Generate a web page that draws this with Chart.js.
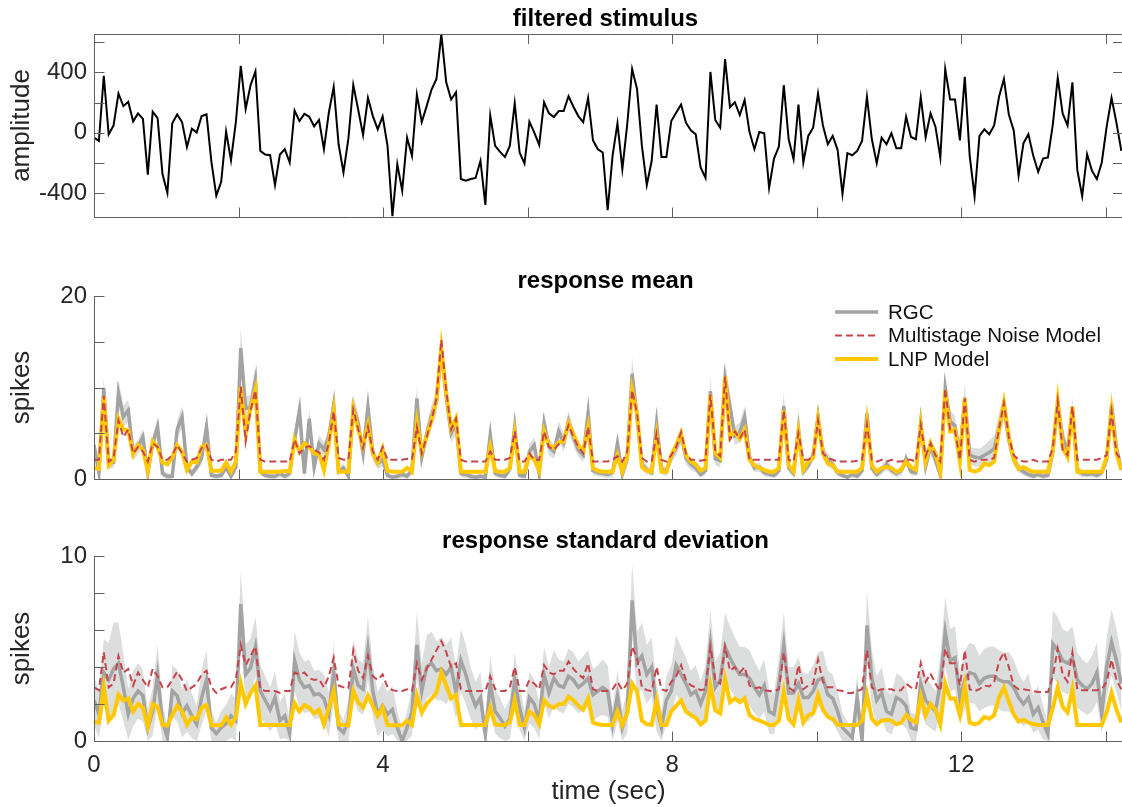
<!DOCTYPE html>
<html>
<head>
<meta charset="utf-8">
<title>RGC responses vs. models</title>
<script src="https://cdn.jsdelivr.net/npm/chart.js@4.4.1/dist/chart.umd.min.js"></script>
<style>
  html, body { margin: 0; padding: 0; background: #fff; }
  #wrap { position: relative; width: 1122px; height: 807px; overflow: hidden; }
  .panel { position: absolute; left: 0; width: 1124px; }
</style>
</head>
<body>
<div id="wrap">
  <div class="panel" style="top:0;height:230px"><canvas id="stimChart"></canvas></div>
  <div class="panel" style="top:230px;height:260px"><canvas id="meanChart"></canvas></div>
  <div class="panel" style="top:490px;height:317px"><canvas id="sdChart"></canvas></div>
</div>
<script>
// time base: one sample per stimulus frame
const DT = 0.0677;
const X_MAX = 14.24;
const X_TICKS = [0, 2, 4, 6, 8, 10, 12, 14];
const X_LABELS = [0, 4, 8, 12];

const STIM_TICKS = [-400, -200, 0, 200, 400, 600];
const STIM_LABELS = [-400, 0, 400];
const MEAN_TICKS = [0, 5, 10, 15, 20];
const MEAN_LABELS = [0, 20];
const SD_TICKS = [0, 2, 4, 6, 8, 10];
const SD_LABELS = [0, 10];

// filtered stimulus (a.u.)
const stimulus = [
  -33, -55, 378, -11, 48, 260, 176, 205, 75, 128,
  92, -279, 139, 97, -275, -400, 62, 121, 70, -95,
  26, 0, 110, 121, -194, -418, -326, 7, -183, 70,
  444, 158, 315, 407, -121, -145, -150, -348, -145, -110,
  -198, 147, 77, 125, 106, 42, 84, -110, 132, 304,
  -77, -264, -40, 317, 154, -15, 231, 110, 22, 108,
  -88, -554, -209, -385, -33, -154, 253, 70, 176, 286,
  356, 653, 334, 220, 268, -308, -319, -308, -301, -187,
  -480, 114, -88, -128, -161, -88, 194, -132, -205, 73,
  0, -81, 202, 128, 103, 143, 143, 242, 172, 110,
  70, 231, -51, -110, -132, -515, -154, 62, -242, 55,
  422, 290, -88, -348, -187, 187, -161, -161, 77, 132,
  187, 66, 15, -11, -231, -301, 403, 84, 33, 488,
  169, 202, 117, 216, 4, -110, 4, -4, -367, -172,
  -92, 315, -44, -176, 187, -198, -22, 33, 260, 48,
  -77, -22, -114, -407, -136, -150, -121, -55, 238, -44,
  -202, -33, -77, -4, -103, -103, 106, -29, -44, 235,
  -29, 128, 40, -165, 422, 220, 220, -51, 370, -154,
  -422, -22, 22, -11, 48, 238, 356, 121, 15, -286,
  -70, -11, -154, -260, -172, -165, 55, 363, 128, 48,
  334, -249, -422, -143, -253, -308, -198, 40, 231, 66,
  -121
];

// response mean (spikes per bin)
const rgcMean = [
  3.7, 0.7, 9.9, 1.7, 1.8, 9.4, 6.8, 7.5, 2.8, 3.5,
  4.6, 0.6, 3.9, 5.7, 0.6, 0.3, 0.3, 5.4, 6.8, 1.3,
  0.6, 1.3, 2.3, 5.7, 0.4, 0.3, 0.4, 1.3, 0.3, 1.3,
  14.3, 7.7, 7.9, 10.8, 0.8, 0.4, 0.3, 0.3, 0.6, 0.3,
  0.6, 4.3, 7.5, 0.6, 6.6, 1.3, 3.9, 3.2, 4.6, 8.1,
  0.8, 1.2, 0.3, 7.9, 6.1, 2.8, 7.9, 2.8, 1.7, 2.1,
  0.4, 0.2, 0.3, 0.5, 0.3, 1.0, 8.8, 2.4, 4.9, 6.9,
  8.5, 14.1, 9.0, 5.0, 6.0, 0.6, 0.5, 0.3, 0.2, 0.3,
  0.2, 4.8, 0.6, 0.4, 0.3, 1.1, 5.7, 0.4, 0.3, 3.0,
  3.7, 0.6, 6.1, 3.5, 3.0, 5.2, 4.0, 6.3, 4.6, 3.2,
  2.6, 7.2, 0.9, 0.7, 0.6, 0.5, 0.7, 3.9, 0.5, 2.2,
  11.5, 6.8, 1.6, 1.0, 0.7, 6.1, 1.1, 0.8, 2.4, 3.4,
  4.8, 2.3, 1.6, 1.2, 0.5, 0.9, 9.6, 2.2, 2.0, 11.0,
  7.9, 4.7, 5.1, 6.8, 2.4, 1.2, 1.3, 0.7, 0.5, 0.4,
  0.9, 8.0, 1.2, 0.6, 5.5, 0.8, 1.5, 2.6, 6.8, 3.0,
  2.1, 1.6, 0.7, 0.4, 0.2, 0.5, 0.3, 0.9, 7.2, 1.2,
  0.5, 1.0, 1.6, 1.0, 0.6, 0.9, 2.2, 0.8, 0.7, 6.2,
  1.4, 3.6, 2.1, 0.4, 9.9, 6.3, 5.8, 2.6, 8.9, 2.6,
  2.4, 2.3, 2.6, 2.9, 3.3, 5.6, 7.9, 4.3, 2.3, 1.2,
  0.8, 0.5, 0.3, 0.5, 0.3, 0.4, 2.9, 8.3, 4.5, 3.0,
  7.6, 1.0, 0.6, 0.5, 0.6, 0.4, 0.7, 2.1, 8.2, 3.4,
  1.0
];
// half-width of the shaded band around the RGC mean
const rgcMeanSpread = [
  1.2, 0.5, 1.2, 0.6, 0.6, 1.5, 1.2, 1.2, 0.8, 0.8,
  0.9, 0.4, 0.8, 1.1, 0.4, 0.3, 0.3, 1.0, 1.2, 0.5,
  0.4, 0.5, 0.7, 1.1, 0.3, 0.3, 0.3, 0.5, 0.3, 0.5,
  2.2, 1.3, 1.3, 1.6, 0.4, 0.3, 0.3, 0.3, 0.4, 0.3,
  0.4, 1.0, 1.3, 0.5, 1.2, 0.6, 0.9, 0.8, 1.0, 1.3,
  0.4, 0.5, 0.3, 1.3, 1.1, 0.8, 1.3, 0.8, 0.6, 0.7,
  0.3, 0.2, 0.3, 0.4, 0.3, 0.5, 1.4, 0.8, 1.0, 1.2,
  1.4, 2.0, 1.5, 1.0, 1.2, 0.4, 0.4, 0.3, 0.2, 0.3,
  0.2, 1.0, 0.4, 0.3, 0.3, 0.5, 1.1, 0.3, 0.3, 0.8,
  0.9, 0.4, 1.2, 0.9, 0.8, 1.1, 1.0, 1.2, 1.0, 0.8,
  0.8, 1.3, 0.5, 0.4, 0.4, 0.4, 0.5, 0.9, 0.4, 0.7,
  1.8, 1.2, 0.6, 0.5, 0.4, 1.2, 0.5, 0.5, 0.7, 0.8,
  1.0, 0.7, 0.6, 0.5, 0.3, 0.5, 1.5, 0.7, 0.7, 1.8,
  1.4, 1.0, 1.1, 1.2, 0.7, 0.5, 0.5, 0.4, 0.3, 0.3,
  0.5, 1.4, 0.5, 0.4, 1.1, 0.4, 0.6, 0.7, 1.2, 0.8,
  0.7, 0.6, 0.4, 0.3, 0.2, 0.3, 0.3, 0.5, 1.3, 0.5,
  0.3, 0.5, 0.6, 0.5, 0.4, 0.5, 0.7, 0.4, 0.4, 1.1,
  0.6, 0.9, 0.7, 0.3, 1.6, 1.2, 1.1, 0.8, 1.5, 0.9,
  1.0, 1.0, 1.1, 1.3, 1.4, 1.5, 1.6, 1.2, 0.8, 0.5,
  0.4, 0.3, 0.3, 0.3, 0.3, 0.3, 0.8, 1.4, 1.1, 0.9,
  1.3, 0.5, 0.4, 0.3, 0.4, 0.3, 0.4, 0.7, 1.4, 0.9,
  0.5
];
const msnMean = [
  2.1, 2.1, 9.1, 1.9, 2.3, 6.4, 4.6, 5.4, 2.8, 3.5,
  3.0, 1.9, 3.9, 3.5, 2.1, 2.1, 2.6, 3.7, 2.8, 1.9,
  2.1, 2.3, 3.4, 3.7, 2.1, 1.9, 2.1, 2.1, 2.1, 3.0,
  10.1, 4.1, 7.5, 9.7, 2.1, 1.9, 1.9, 1.9, 1.9, 1.9,
  1.9, 4.3, 2.8, 3.4, 3.6, 3.2, 2.9, 2.1, 3.9, 7.4,
  2.3, 2.1, 2.1, 7.6, 5.5, 3.4, 5.7, 3.0, 2.1, 3.5,
  2.1, 2.1, 2.1, 2.1, 2.2, 2.1, 5.7, 2.8, 4.6, 6.4,
  8.8, 15.2, 9.7, 5.4, 6.6, 2.1, 1.9, 1.9, 1.9, 1.9,
  1.9, 3.0, 2.1, 2.1, 2.1, 2.3, 5.2, 1.9, 1.9, 2.8,
  2.1, 2.1, 5.2, 3.5, 3.2, 3.8, 4.3, 5.9, 4.6, 3.5,
  2.8, 5.7, 1.9, 1.9, 1.9, 1.9, 2.1, 2.5, 1.9, 3.0,
  9.7, 7.2, 2.3, 1.9, 1.9, 5.0, 2.1, 1.9, 2.6, 3.5,
  5.1, 2.8, 2.1, 2.1, 2.0, 2.1, 9.2, 3.0, 2.5, 11.2,
  4.3, 5.2, 4.4, 5.4, 2.1, 2.1, 2.1, 2.1, 2.1, 2.1,
  2.1, 7.5, 2.1, 1.9, 5.0, 2.1, 2.1, 2.5, 6.4, 2.8,
  2.3, 2.1, 1.9, 1.9, 1.9, 1.9, 2.0, 2.1, 6.0, 2.1,
  1.9, 2.1, 1.9, 2.1, 1.9, 1.9, 2.1, 2.1, 1.9, 5.9,
  2.5, 3.9, 2.6, 1.9, 9.9, 5.4, 5.3, 2.1, 8.8, 2.1,
  1.9, 2.1, 2.1, 2.1, 2.3, 5.5, 8.3, 4.6, 2.6, 2.1,
  1.9, 1.9, 2.1, 1.9, 1.9, 1.9, 3.4, 8.5, 3.2, 2.6,
  7.9, 2.1, 2.1, 2.1, 2.1, 2.1, 2.3, 2.6, 7.4, 2.8,
  2.1
];
const lnpMean = [
  1.2, 1.1, 9.0, 1.5, 2.1, 6.6, 5.4, 5.3, 2.7, 3.7,
  3.2, 0.9, 4.1, 3.5, 1.8, 1.6, 2.4, 3.7, 3.0, 1.0,
  1.9, 1.8, 3.5, 3.7, 0.9, 0.9, 0.9, 1.8, 0.8, 1.9,
  10.1, 5.0, 7.7, 9.8, 0.8, 0.8, 0.8, 0.8, 0.8, 0.9,
  0.8, 4.3, 3.0, 3.9, 3.5, 2.8, 2.8, 1.0, 3.9, 7.4,
  0.8, 0.8, 0.8, 7.6, 5.4, 3.6, 5.9, 2.8, 1.8, 3.3,
  0.9, 0.8, 0.8, 0.8, 1.2, 0.8, 6.2, 3.0, 4.6, 6.4,
  8.6, 14.3, 9.4, 5.5, 6.6, 0.8, 0.8, 0.8, 0.8, 0.8,
  0.8, 3.5, 0.9, 0.8, 0.8, 1.2, 5.0, 0.8, 0.8, 2.6,
  2.1, 0.9, 5.2, 3.7, 3.4, 4.0, 4.1, 6.1, 4.9, 3.7,
  3.0, 5.7, 1.2, 0.9, 0.8, 0.8, 0.8, 2.6, 0.8, 2.4,
  9.7, 7.2, 1.3, 0.9, 0.8, 4.8, 0.8, 0.8, 2.6, 3.7,
  5.0, 2.6, 1.9, 1.6, 0.9, 1.2, 9.2, 2.8, 2.3, 11.2,
  4.6, 5.2, 4.4, 5.4, 2.1, 1.5, 1.2, 1.0, 0.8, 0.8,
  1.2, 7.5, 1.5, 0.8, 5.0, 1.0, 1.9, 2.3, 6.5, 2.8,
  1.7, 1.5, 0.8, 0.8, 0.8, 0.8, 0.8, 1.2, 6.1, 1.5,
  0.8, 1.2, 1.3, 1.2, 0.8, 1.0, 1.9, 1.3, 1.0, 5.9,
  1.9, 3.9, 2.8, 0.8, 9.7, 5.2, 5.4, 1.9, 8.8, 1.0,
  0.8, 1.0, 1.7, 1.5, 1.9, 5.5, 8.3, 4.6, 2.1, 1.1,
  1.3, 1.0, 0.8, 0.8, 0.8, 0.8, 3.2, 8.5, 3.4, 2.4,
  7.9, 0.8, 0.8, 0.8, 0.8, 0.8, 0.8, 2.4, 7.4, 2.8,
  1.0
];

// response standard deviation (spikes per bin)
const rgcSd = [
  2.2, 1.45, 3.7, 3.3, 3.9, 4.2, 2.9, 1.45, 2.3, 2.7,
  2.45, 0.7, 1.6, 3.6, 1.0, 0.2, 2.7, 2.45, 1.5, 1.9,
  1.36, 0.9, 2.35, 3.3, 0.72, 0.4, 0.72, 0.94, 1.36, 1.1,
  7.4, 3.6, 3.95, 5.1, 2.7, 2.2, 1.7, 2.35, 1.1, 1.36,
  0.4, 4.35, 3.3, 2.9, 3.0, 2.5, 2.55, 2.3, 1.45, 3.7,
  0.72, 0.45, 1.1, 3.9, 3.0, 2.8, 5.0, 2.7, 1.45, 1.9,
  1.45, 1.7, 0.72, 0.0, 0.72, 1.6, 5.2, 2.7, 4.0, 4.2,
  3.8, 3.9, 3.6, 4.0, 2.6, 4.35, 3.6, 2.6, 1.9, 2.35,
  0.36, 3.1, 1.6, 1.25, 0.8, 1.2, 3.3, 1.8, 0.72, 2.35,
  2.0, 1.1, 3.6, 2.6, 3.4, 3.0, 2.9, 3.5, 3.3, 2.9,
  3.1, 3.4, 2.5, 2.7, 2.9, 2.7, 0.9, 2.45, 0.72, 1.6,
  7.6, 4.2, 4.6, 3.6, 4.0, 1.8, 0.72, 2.2, 2.7, 4.1,
  3.6, 3.1, 2.5, 2.7, 2.0, 2.7, 5.25, 2.9, 3.3, 5.1,
  4.5, 4.0, 3.6, 3.6, 3.4, 2.9, 2.5, 3.0, 1.6, 1.45,
  3.1, 5.2, 2.6, 2.6, 3.1, 2.35, 2.35, 2.7, 3.3, 3.4,
  2.5, 2.3, 1.6, 0.72, 0.45, 0.18, 2.35, 0.0, 6.25, 3.4,
  2.2, 2.6, 1.6, 1.45, 2.35, 2.2, 1.9, 0.72, 0.63, 3.1,
  2.2, 1.9, 1.6, 3.1, 5.9, 4.35, 4.5, 2.35, 3.3, 3.7,
  3.6, 3.1, 3.4, 3.5, 3.5, 3.3, 3.2, 3.2, 2.9, 2.35,
  2.0, 2.35, 1.45, 1.8, 1.0, 0.36, 5.25, 4.9, 4.35, 4.2,
  4.5, 3.3, 3.0, 2.8, 3.1, 3.7, 1.45, 4.0, 5.35, 4.35,
  3.1
];
const rgcSdSpread = [
  1.3, 1.3, 1.8, 2.0, 2.5, 2.2, 1.8, 1.4, 1.5, 1.5,
  1.4, 1.0, 1.3, 1.6, 1.0, 0.6, 1.4, 1.4, 1.3, 1.4,
  1.2, 1.0, 1.5, 1.6, 0.9, 0.6, 0.9, 1.0, 1.2, 1.2,
  1.8, 1.6, 1.6, 1.6, 1.4, 1.3, 1.2, 1.4, 1.0, 1.2,
  0.8, 1.6, 1.5, 1.4, 1.4, 1.3, 1.3, 1.3, 1.2, 1.6,
  0.9, 0.7, 1.1, 1.6, 1.4, 1.4, 1.7, 1.4, 1.2, 1.3,
  1.2, 1.3, 0.9, 0.6, 0.9, 1.3, 1.8, 1.5, 1.7, 1.7,
  1.6, 1.7, 1.6, 1.6, 1.4, 1.7, 1.6, 1.4, 1.3, 1.4,
  0.7, 1.5, 1.2, 1.1, 0.9, 1.1, 1.5, 1.2, 0.9, 1.4,
  1.3, 1.0, 1.5, 1.4, 1.5, 1.4, 1.4, 1.5, 1.5, 1.4,
  1.5, 1.5, 1.4, 1.4, 1.5, 1.4, 0.9, 1.4, 0.9, 1.2,
  2.0, 1.7, 1.8, 1.6, 1.6, 1.3, 0.9, 1.3, 1.4, 1.6,
  1.5, 1.4, 1.3, 1.4, 1.2, 1.4, 1.8, 1.4, 1.5, 1.8,
  1.7, 1.6, 1.5, 1.5, 1.5, 1.4, 1.3, 1.4, 1.2, 1.1,
  1.4, 1.8, 1.4, 1.4, 1.4, 1.3, 1.3, 1.4, 1.5, 1.5,
  1.3, 1.3, 1.1, 0.8, 0.6, 0.5, 1.3, 0.5, 1.9, 1.5,
  1.3, 1.4, 1.1, 1.1, 1.3, 1.3, 1.2, 0.8, 0.8, 1.5,
  1.3, 1.2, 1.1, 1.5, 1.9, 1.7, 1.7, 1.4, 1.6, 1.6,
  1.6, 1.5, 1.6, 1.6, 1.6, 1.6, 1.6, 1.6, 1.5, 1.3,
  1.2, 1.3, 1.0, 1.2, 0.9, 0.6, 1.8, 1.8, 1.7, 1.7,
  1.7, 1.5, 1.4, 1.4, 1.5, 1.6, 1.0, 1.6, 1.8, 1.7,
  1.5
];
const msnSd = [
  2.9, 2.75, 4.8, 2.9, 3.1, 4.6, 3.7, 3.9, 3.0, 3.7,
  3.3, 2.9, 3.9, 3.5, 2.9, 2.9, 3.3, 3.75, 3.3, 2.7,
  2.9, 3.1, 3.6, 3.8, 2.9, 2.6, 2.8, 2.9, 2.9, 3.35,
  5.2, 4.1, 4.6, 5.1, 2.8, 2.7, 2.7, 2.7, 2.6, 2.7,
  2.7, 3.7, 3.6, 3.7, 3.4, 3.3, 3.35, 2.9, 3.5, 4.5,
  3.0, 2.9, 2.85, 4.9, 3.8, 3.4, 4.6, 3.5, 3.3, 3.6,
  2.9, 2.75, 2.7, 2.7, 2.8, 2.7, 4.2, 3.3, 3.9, 4.4,
  4.9, 5.4, 4.8, 4.0, 4.2, 2.8, 2.7, 2.7, 2.7, 2.7,
  2.7, 3.5, 2.8, 2.7, 2.7, 2.9, 4.0, 2.7, 2.7, 3.3,
  3.1, 2.8, 4.1, 3.7, 3.6, 3.8, 3.8, 4.3, 3.9, 3.6,
  3.4, 4.2, 2.8, 2.7, 2.7, 2.7, 2.8, 3.2, 2.75, 3.1,
  5.1, 4.5, 2.9, 2.75, 2.7, 4.0, 2.8, 2.7, 3.2, 3.5,
  4.1, 3.3, 3.0, 2.9, 2.75, 2.8, 5.1, 3.3, 3.1, 5.1,
  3.8, 4.0, 3.7, 4.0, 3.0, 2.85, 2.9, 2.75, 2.7, 2.7,
  2.8, 4.8, 2.9, 2.7, 4.1, 2.8, 3.0, 3.1, 4.4, 3.2,
  2.9, 2.9, 2.75, 2.7, 2.6, 2.6, 2.7, 2.8, 4.9, 2.9,
  2.7, 2.8, 2.8, 2.8, 2.7, 2.75, 3.1, 2.9, 2.8, 4.2,
  3.2, 3.65, 3.1, 2.7, 5.0, 4.2, 4.2, 3.0, 4.9, 2.8,
  2.7, 2.8, 3.0, 2.95, 3.2, 4.3, 4.8, 4.0, 3.0, 2.8,
  2.8, 2.75, 2.7, 2.65, 2.65, 2.65, 3.5, 5.0, 3.6, 3.2,
  4.8, 2.8, 2.75, 2.75, 2.75, 2.75, 2.8, 3.2, 4.4, 3.3,
  2.8
];
const lnpSd = [
  1.03, 1.0, 2.9, 1.1, 1.4, 2.5, 2.2, 2.3, 1.6, 2.0,
  1.8, 0.8, 2.0, 1.85, 0.85, 0.85, 1.4, 1.9, 1.6, 0.87,
  1.27, 1.18, 1.8, 1.94, 0.85, 0.85, 0.85, 1.27, 0.87, 1.3,
  3.1, 2.0, 2.6, 3.0, 0.87, 0.87, 0.87, 0.87, 0.87, 0.87,
  0.87, 2.05, 1.6, 1.94, 1.8, 1.5, 1.7, 0.9, 1.8, 2.7,
  0.9, 0.87, 0.85, 2.7, 2.1, 1.8, 2.45, 1.9, 1.36, 1.8,
  0.87, 0.85, 0.85, 0.85, 1.1, 0.87, 2.45, 1.54, 2.0, 2.3,
  2.6, 3.7, 3.0, 2.3, 2.5, 0.87, 0.87, 0.87, 0.87, 0.87,
  0.87, 1.8, 0.9, 0.87, 0.87, 1.0, 2.2, 0.87, 0.87, 1.6,
  1.4, 0.9, 2.2, 1.9, 1.8, 2.0, 2.0, 2.4, 2.2, 1.9,
  1.7, 2.3, 1.0, 0.9, 0.87, 0.87, 0.87, 1.6, 0.87, 1.5,
  3.1, 2.7, 1.1, 0.9, 0.87, 2.2, 0.87, 0.87, 1.6, 1.9,
  2.2, 1.6, 1.4, 1.25, 0.9, 1.1, 3.0, 1.65, 1.5, 3.35,
  2.1, 2.3, 2.1, 2.3, 1.4, 1.2, 1.1, 1.0, 0.87, 0.87,
  1.1, 2.7, 1.2, 0.9, 2.2, 1.0, 1.4, 1.5, 2.5, 1.7,
  1.3, 1.2, 0.87, 0.87, 0.87, 0.87, 0.87, 1.1, 2.5, 1.2,
  0.9, 1.1, 1.15, 1.1, 0.9, 1.0, 1.4, 1.15, 1.0, 2.4,
  1.4, 2.0, 1.7, 0.9, 3.1, 2.3, 2.3, 1.4, 3.0, 1.0,
  0.9, 1.0, 1.3, 1.2, 1.4, 2.35, 2.9, 2.15, 1.45, 1.05,
  1.15, 1.0, 0.9, 0.87, 0.87, 0.87, 1.8, 2.9, 1.85, 1.55,
  2.8, 0.87, 0.87, 0.87, 0.87, 0.87, 0.87, 1.55, 2.6, 1.7,
  1.0
];

const FONT = "'Liberation Sans', Arial, Helvetica, sans-serif";
const INK = '#262626';
const AXIS = '#5f5f5f';
const TICK_LEN = 10;
const RGC_COLOR = '#a3a3a3';
const BAND_COLOR = '#dcdddd';
const MSN_COLOR = '#c8444c';
const LNP_COLOR = '#ffc800';

const toPoints = vals => vals.map((v, i) => ({ x: i * DT, y: v }));

// MATLAB-style box: axis lines, inward ticks and a bold title over the axes
const panelFrame = {
  id: 'panelFrame',
  afterDatasetsDraw(chart, args, opts) {
    const { ctx, chartArea: a } = chart;
    const { x, y } = chart.scales;
    ctx.save();
    ctx.strokeStyle = AXIS;
    ctx.lineWidth = 1;
    ctx.beginPath();
    const L = a.left + 0.5, B = Math.round(a.bottom) + 0.5;
    ctx.moveTo(L, a.top); ctx.lineTo(L, B); ctx.lineTo(a.right, B);
    if (opts.box) {
      const T = Math.round(a.top) + 0.5, R = Math.round(a.right) - 0.5;
      ctx.moveTo(L, T); ctx.lineTo(R, T); ctx.lineTo(R, B);
    }
    x.ticks.forEach(t => {
      const px = Math.round(x.getPixelForValue(t.value)) + 0.5;
      ctx.moveTo(px, B); ctx.lineTo(px, B - TICK_LEN);
      if (opts.box) { ctx.moveTo(px, a.top); ctx.lineTo(px, a.top + TICK_LEN); }
    });
    y.ticks.forEach(t => {
      const py = Math.round(y.getPixelForValue(t.value)) + 0.5;
      ctx.moveTo(L, py); ctx.lineTo(L + TICK_LEN, py);
      if (opts.box) { ctx.moveTo(a.right, py); ctx.lineTo(a.right - TICK_LEN, py); }
    });
    ctx.stroke();

    ctx.fillStyle = '#000';
    ctx.font = 'bold 24px ' + FONT;
    ctx.textAlign = 'center';
    ctx.textBaseline = 'alphabetic';
    ctx.fillText(opts.title, (a.left + a.right) / 2 - 3, a.top - 8);
    ctx.restore();
  }
};

// line-sample legend inside the top right of the plot area
const lineLegend = {
  id: 'lineLegend',
  afterDraw(chart, args, opts) {
    if (!opts.show) return;
    const { ctx, chartArea: a } = chart;
    const items = chart.data.datasets
      .filter(d => d.legendRank !== undefined)
      .sort((p, q) => p.legendRank - q.legendRank);
    const x0 = a.right - 288, x1 = a.right - 245;
    ctx.save();
    ctx.font = '20.5px ' + FONT;
    ctx.textBaseline = 'middle';
    ctx.textAlign = 'left';
    items.forEach((d, i) => {
      const yy = a.top + 16 + i * 23.5;
      ctx.strokeStyle = d.borderColor;
      ctx.lineWidth = d.borderWidth;
      ctx.setLineDash(d.borderDash || []);
      ctx.beginPath();
      ctx.moveTo(x0, yy); ctx.lineTo(x1, yy);
      ctx.stroke();
      ctx.fillStyle = '#111';
      ctx.fillText(d.label, x1 + 10, yy + 1);
    });
    ctx.restore();
  }
};

function xScale(withLabels, height) {
  return {
    type: 'linear',
    min: 0,
    max: X_MAX,
    afterBuildTicks: s => { s.ticks = X_TICKS.map(v => ({ value: v })); },
    afterFit: s => {
      s.height = height;
      s.paddingLeft = 0;
      s.paddingRight = 0;
    },
    grid: { display: false, drawTicks: false },
    border: { display: false },
    ticks: {
      display: withLabels,
      autoSkip: false,
      maxRotation: 0,
      padding: 10,
      color: INK,
      font: { family: FONT, size: 24 },
      callback: v => X_LABELS.includes(v) ? String(v) : ''
    },
    title: {
      display: withLabels,
      text: 'time (sec)',
      color: INK,
      font: { family: FONT, size: 26 },
      padding: { top: 0, bottom: 0 }
    }
  };
}

function yScale(min, max, tickVals, labelVals, title) {
  return {
    min: min,
    max: max,
    afterBuildTicks: s => { s.ticks = tickVals.map(v => ({ value: v })); },
    afterFit: s => {
      // fixed gutter; tick labels may overhang the plot edges
      s.width = 94;
      s.paddingTop = 0;
      s.paddingBottom = 0;
    },
    grid: { display: false, drawTicks: false },
    border: { display: false },
    ticks: {
      autoSkip: false,
      padding: 7,
      color: INK,
      font: { family: FONT, size: 24 },
      callback: v => labelVals.includes(v) ? String(v) : ''
    },
    title: {
      display: true,
      text: title,
      color: INK,
      font: { family: FONT, size: 26 },
      padding: { top: 6, bottom: 0 }
    }
  };
}

function lineSet(label, vals, color, width, dash, rank) {
  return {
    label: label,
    data: toPoints(vals),
    borderColor: color,
    borderWidth: width,
    borderDash: dash,
    pointRadius: 0,
    tension: 0,
    fill: false,
    legendRank: rank
  };
}

function bandSets(mean, spread) {
  const lo = mean.map((m, i) => Math.max(0, m - spread[i]));
  const hi = mean.map((m, i) => m + spread[i]);
  return [
    { data: toPoints(lo), borderWidth: 0, pointRadius: 0, fill: false },
    { data: toPoints(hi), borderWidth: 0, pointRadius: 0, fill: '-1', backgroundColor: BAND_COLOR }
  ];
}

// dataset 0 is painted last, so the dashed model line sits on top
function responseSets(rgc, spread, msn, lnp) {
  return [
    lineSet('Multistage Noise Model', msn, MSN_COLOR, 2, [7, 4], 1),
    lineSet('LNP Model', lnp, LNP_COLOR, 4, [], 2),
    lineSet('RGC', rgc, RGC_COLOR, 3.5, [], 0),
    ...bandSets(rgc, spread)
  ];
}

function baseOptions(padTop, xs, ys, frame, legend) {
  return {
    responsive: true,
    maintainAspectRatio: false,
    animation: false,
    events: [],
    layout: { padding: { top: padTop, right: 1, left: 0, bottom: 0 } },
    scales: { x: xs, y: ys },
    plugins: {
      legend: { display: false },
      tooltip: { enabled: false },
      title: { display: false },
      panelFrame: frame,
      lineLegend: { show: legend }
    }
  };
}

new Chart(document.getElementById('stimChart'), {
  type: 'line',
  data: {
    datasets: [{
      label: 'filtered stimulus',
      data: toPoints(stimulus),
      borderColor: '#000',
      borderWidth: 2,
      pointRadius: 0,
      tension: 0,
      fill: false
    }]
  },
  options: baseOptions(34, xScale(false, 13),
    yScale(-560, 655, STIM_TICKS, STIM_LABELS, 'amplitude'),
    { title: 'filtered stimulus', box: true }, false),
  plugins: [panelFrame, lineLegend]
});

new Chart(document.getElementById('meanChart'), {
  type: 'line',
  data: { datasets: responseSets(rgcMean, rgcMeanSpread, msnMean, lnpMean) },
  options: baseOptions(66, xScale(false, 11),
    yScale(0, 20, MEAN_TICKS, MEAN_LABELS, 'spikes'),
    { title: 'response mean', box: false }, true),
  plugins: [panelFrame, lineLegend]
});

new Chart(document.getElementById('sdChart'), {
  type: 'line',
  data: { datasets: responseSets(rgcSd, rgcSdSpread, msnSd, lnpSd) },
  options: baseOptions(66, xScale(true, 66),
    yScale(0, 10, SD_TICKS, SD_LABELS, 'spikes'),
    { title: 'response standard deviation', box: false }, false),
  plugins: [panelFrame, lineLegend]
});
</script>
</body>
</html>
